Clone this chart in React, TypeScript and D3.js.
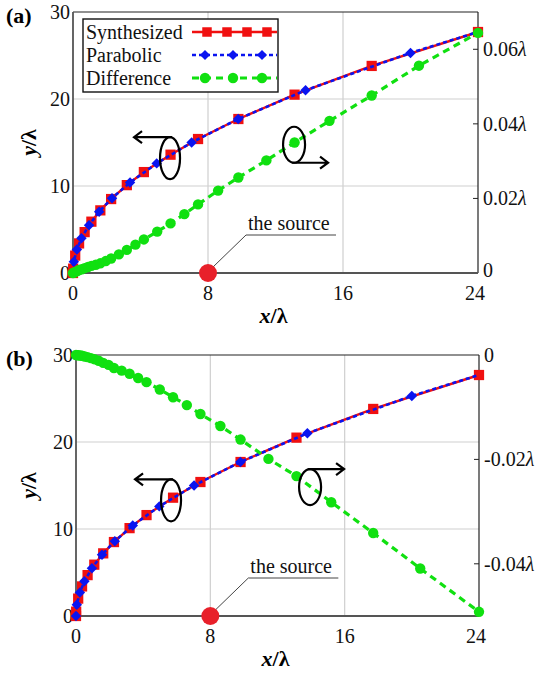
import React, { useEffect, useRef } from "react";
import * as d3 from "d3";

// synthesized profile (squares), x/λ and y/λ
const synthX = [0, 0.01, 0.13, 0.36, 0.69, 1.09, 1.62, 2.26, 3.19, 4.2, 5.78, 7.41, 9.8, 13.13, 17.7, 24];
const synthY = [0, 0.5, 2.0, 3.4, 4.7, 5.9, 7.2, 8.5, 10.1, 11.6, 13.6, 15.4, 17.7, 20.5, 23.8, 27.7];

// parabolic reference (diamonds)
const paraX = [0, 0.05, 0.23, 0.5, 0.95, 1.55, 2.31, 3.38, 4.96, 7.03, 9.79, 13.78, 20.0, 24];
const paraY = [0, 1.3, 2.7, 4.0, 5.5, 7.05, 8.6, 10.4, 12.6, 15.0, 17.7, 21.0, 25.3, 27.7];

// difference curves (circles), right axis in λ
const diffX = [0, 0.07, 0.13, 0.25, 0.36, 0.52, 0.69, 0.89, 1.09, 1.35, 1.62, 1.94, 2.26, 2.72, 3.19, 3.7, 4.2, 4.99, 5.78, 6.6, 7.41, 8.6, 9.8, 11.46, 13.13, 15.2, 17.7, 20.5, 24];
const diffA = [0, 0.0001, 0.0003, 0.0005, 0.0008, 0.001, 0.0013, 0.0016, 0.0019, 0.0022, 0.0026, 0.0032, 0.0039, 0.005, 0.0062, 0.0076, 0.009, 0.0111, 0.0133, 0.0158, 0.0184, 0.0221, 0.0256, 0.0302, 0.035, 0.0408, 0.0476, 0.0556, 0.0644];
const diffB = [0, -0.00002, -0.00005, -0.0001, -0.00015, -0.0003, -0.0004, -0.0006, -0.0008, -0.0011, -0.0015, -0.0019, -0.0025, -0.003, -0.0036, -0.0044, -0.0052, -0.0066, -0.0081, -0.0096, -0.0113, -0.0136, -0.0162, -0.0199, -0.0232, -0.0282, -0.0341, -0.0409, -0.0492];

const xTicks = [0, 8, 16, 24];
const yTicks = [0, 10, 20, 30];
const rightTicksA = [0, 0.02, 0.04, 0.06];
const rightTicksB = [0, -0.02, -0.04];
const sourceX = 8;

const legendNames = ["Synthesized", "Parabolic", "Difference"];

const RED = "#f01010";
const BLUE = "#0a14f0";
const GREEN = "#10e010";
const FONT = 'Tinos, "Liberation Serif", Times, "Times New Roman", "Noto Serif", "DejaVu Serif", serif';

type Pt = [number, number];
const zip = (xs: number[], ys: number[]): Pt[] => xs.map((x, i) => [x, ys[i]]);

interface PanelOpts {
  tag: string;
  left: number;
  right: number;
  top: number;
  bottom: number;
  rightDomain: [number, number];
  rightTicks: number[];
  diff: number[];
  legend: boolean;
  leftRot: { x: number; y: number; arrowUp: boolean };
  rightRot: { x: number; v: number; arrowUp: boolean };
}

function drawPanel(svg: d3.Selection<SVGSVGElement, unknown, null, undefined>, o: PanelOpts) {
  const g = svg.append("g").style("font-family", FONT);
  const x = d3.scaleLinear().domain([0, 24]).range([o.left, o.right]);
  const y = d3.scaleLinear().domain([0, 30]).range([o.bottom, o.top]);
  const yr = d3.scaleLinear().domain(o.rightDomain).range([o.bottom, o.top]);

  // grid
  g.selectAll(".gx").data([8, 16]).join("line")
    .attr("x1", d => x(d)).attr("x2", d => x(d))
    .attr("y1", o.top).attr("y2", o.bottom)
    .attr("stroke", "#cfcfcf").attr("stroke-width", 1.2);
  g.selectAll(".gy").data([10, 20]).join("line")
    .attr("x1", o.left).attr("x2", o.right)
    .attr("y1", d => y(d)).attr("y2", d => y(d))
    .attr("stroke", "#cfcfcf").attr("stroke-width", 1.2);

  // frame
  g.append("line").attr("x1", o.left).attr("x2", o.right).attr("y1", o.top).attr("y2", o.top)
    .attr("stroke", "#222").attr("stroke-width", 1.2);
  g.append("line").attr("x1", o.right).attr("x2", o.right).attr("y1", o.top).attr("y2", o.bottom)
    .attr("stroke", "#222").attr("stroke-width", 1.2);
  g.append("line").attr("x1", o.left).attr("x2", o.left).attr("y1", o.top).attr("y2", o.bottom)
    .attr("stroke", "#555").attr("stroke-width", 1.8);
  g.append("line").attr("x1", o.left).attr("x2", o.right).attr("y1", o.bottom).attr("y2", o.bottom)
    .attr("stroke", "#555").attr("stroke-width", 1.8);

  // right ticks (inward)
  g.selectAll(".rt").data(o.rightTicks.filter(d => d !== 0)).join("line")
    .attr("x1", o.right - 5).attr("x2", o.right)
    .attr("y1", d => yr(d)).attr("y2", d => yr(d))
    .attr("stroke", "#222").attr("stroke-width", 1);

  // tick labels
  const txt = g.append("g").attr("font-size", 20).attr("fill", "#111");
  txt.selectAll(".yl").data(yTicks).join("text")
    .attr("x", o.left - 3).attr("y", d => y(d)).attr("dy", "0.35em")
    .attr("text-anchor", "end").text(d => d);
  txt.selectAll(".xl").data(xTicks).join("text")
    .attr("x", d => x(d) - (d === 24 ? 3 : 0)).attr("y", o.bottom + 27)
    .attr("text-anchor", "middle").text(d => d);
  const rl = txt.selectAll(".rl").data(o.rightTicks).join("text")
    .attr("x", o.right + 5).attr("y", d => yr(d) - (d === 0 && o.rightDomain[0] === 0 ? 3 : 0)).attr("dy", "0.35em");
  rl.append("tspan").text(d => (d === 0 ? "0" : d.toFixed(2)));
  rl.filter(d => d !== 0).append("tspan").attr("font-style", "italic").text("λ");

  // axis titles
  const xt = g.append("text").attr("font-size", 22).attr("font-weight", "bold")
    .attr("x", (o.left + o.right) / 2 - 2).attr("y", o.bottom + 50).attr("text-anchor", "middle");
  xt.append("tspan").attr("font-style", "italic").text("x");
  xt.append("tspan").text("/λ");
  const cy = (o.top + o.bottom) / 2;
  const yt = g.append("text").attr("font-size", 22).attr("font-weight", "bold")
    .attr("transform", `translate(36,${cy}) rotate(-90)`).attr("text-anchor", "middle");
  yt.append("tspan").attr("font-style", "italic").text("y");
  yt.append("tspan").text("/λ");

  g.append("text").attr("font-size", 22).attr("font-weight", "bold")
    .attr("x", 6).attr("y", o.top + 11).text(o.tag);

  // curves
  const line = d3.line<Pt>().x(d => x(d[0])).y(d => y(d[1]));
  const synth = zip(synthX, synthY);
  const para = zip(paraX, paraY);
  const diff = zip(diffX, o.diff);

  g.append("path").datum(synth).attr("d", line).attr("fill", "none")
    .attr("stroke", RED).attr("stroke-width", 2.4);
  g.selectAll(".sq").data(synth).join("path")
    .attr("transform", d => `translate(${x(d[0])},${y(d[1])})`)
    .attr("d", d3.symbol(d3.symbolSquare, 105)()).attr("fill", RED);

  g.append("path").datum(para).attr("d", line).attr("fill", "none")
    .attr("stroke", BLUE).attr("stroke-width", 2.6).attr("stroke-dasharray", "4,3");
  g.selectAll(".dm").data(para.slice(0, -1)).join("path")
    .attr("transform", d => `translate(${x(d[0])},${y(d[1])})`)
    .attr("d", d3.symbol(d3.symbolDiamond2, 70)()).attr("fill", BLUE);

  const dline = d3.line<Pt>().x(d => x(d[0])).y(d => yr(d[1]));
  g.append("path").datum(diff).attr("d", dline).attr("fill", "none")
    .attr("stroke", GREEN).attr("stroke-width", 3.2).attr("stroke-dasharray", "7,5");
  g.selectAll(".ci").data(diff).join("circle")
    .attr("cx", d => x(d[0])).attr("cy", d => yr(d[1])).attr("r", 5.2).attr("fill", GREEN);

  // rotation markers
  const rot = (cx: number, cyy: number, rx: number, ry: number, up: boolean, dir: number, len: number) => {
    g.append("ellipse").attr("cx", cx).attr("cy", cyy).attr("rx", rx).attr("ry", ry)
      .attr("fill", "none").attr("stroke", "#000").attr("stroke-width", 2.2);
    const ay = up ? cyy - ry : cyy + ry;
    const ax = cx - 2 * dir;
    const tip = ax + dir * len;
    g.append("path")
      .attr("d", `M${ax},${ay}H${tip}M${tip - dir * 8},${ay - 6}L${tip},${ay}L${tip - dir * 8},${ay + 6}`)
      .attr("fill", "none").attr("stroke", "#000").attr("stroke-width", 2.2);
  };
  rot(x(o.leftRot.x), y(o.leftRot.y), 10, 21, o.leftRot.arrowUp, -1, 38);
  rot(x(o.rightRot.x), yr(o.rightRot.v), 11, 18, o.rightRot.arrowUp, 1, 36);

  // the source
  const sx = x(sourceX);
  g.append("path").attr("d", `M${sx + 5},${o.bottom - 6}L${sx + 38},${o.bottom - 38}H${sx + 128}`)
    .attr("fill", "none").attr("stroke", "#444").attr("stroke-width", 1);
  g.append("text").attr("font-size", 20).attr("fill", "#111")
    .attr("x", sx + 40).attr("y", o.bottom - 43).text("the source");
  g.append("circle").attr("cx", sx).attr("cy", o.bottom).attr("r", 9).attr("fill", "#e8202a");

  if (o.legend) {
    const lg = g.append("g");
    lg.append("rect").attr("x", 83).attr("y", 19).attr("width", 195).attr("height", 73)
      .attr("fill", "#fff").attr("stroke", "#111").attr("stroke-width", 1.4);
    const rows = [0, 1, 2].map(i => 32 + i * 23);
    lg.selectAll("text").data(legendNames).join("text")
      .attr("font-size", 20).attr("fill", "#111")
      .attr("x", 86).attr("y", (d, i) => rows[i]).attr("dy", "0.35em").text(d => d);
    lg.append("line").attr("x1", 192).attr("x2", 277).attr("y1", rows[0]).attr("y2", rows[0])
      .attr("stroke", RED).attr("stroke-width", 2.4);
    lg.selectAll(".lsq").data([207, 227, 247, 267]).join("path")
      .attr("transform", d => `translate(${d},${rows[0]})`)
      .attr("d", d3.symbol(d3.symbolSquare, 90)()).attr("fill", RED);
    lg.append("line").attr("x1", 192).attr("x2", 277).attr("y1", rows[1]).attr("y2", rows[1])
      .attr("stroke", BLUE).attr("stroke-width", 2.6).attr("stroke-dasharray", "4,3");
    lg.selectAll(".ldm").data([205, 233, 262]).join("path")
      .attr("transform", d => `translate(${d},${rows[1]})`)
      .attr("d", d3.symbol(d3.symbolDiamond2, 65)()).attr("fill", BLUE);
    lg.append("line").attr("x1", 192).attr("x2", 277).attr("y1", rows[2]).attr("y2", rows[2])
      .attr("stroke", GREEN).attr("stroke-width", 3.2).attr("stroke-dasharray", "7,5");
    lg.selectAll(".lci").data([205, 233, 262]).join("circle")
      .attr("cx", d => d).attr("cy", rows[2]).attr("r", 5.2).attr("fill", GREEN);
  }
}

export default function App() {
  const svgRef = useRef<SVGSVGElement | null>(null);

  useEffect(() => {
    if (!svgRef.current) return;
    const svg = d3.select(svgRef.current);
    svg.selectAll("*").remove();

    drawPanel(svg, {
      tag: "(a)", left: 73, right: 478, top: 12, bottom: 273,
      rightDomain: [0, 0.07], rightTicks: rightTicksA, diff: diffA, legend: true,
      leftRot: { x: 5.75, y: 13.2, arrowUp: true },
      rightRot: { x: 13.1, v: 0.0344, arrowUp: false },
    });
    drawPanel(svg, {
      tag: "(b)", left: 76, right: 479, top: 355, bottom: 616,
      rightDomain: [-0.05, 0], rightTicks: rightTicksB, diff: diffB, legend: false,
      leftRot: { x: 5.66, y: 13.3, arrowUp: true },
      rightRot: { x: 13.94, v: -0.0253, arrowUp: true },
    });
  }, []);

  return (
    <svg ref={svgRef} width={539} height={673}
      style={{ position: "absolute", left: 0, top: 0, background: "#fff" }} />
  );
}
